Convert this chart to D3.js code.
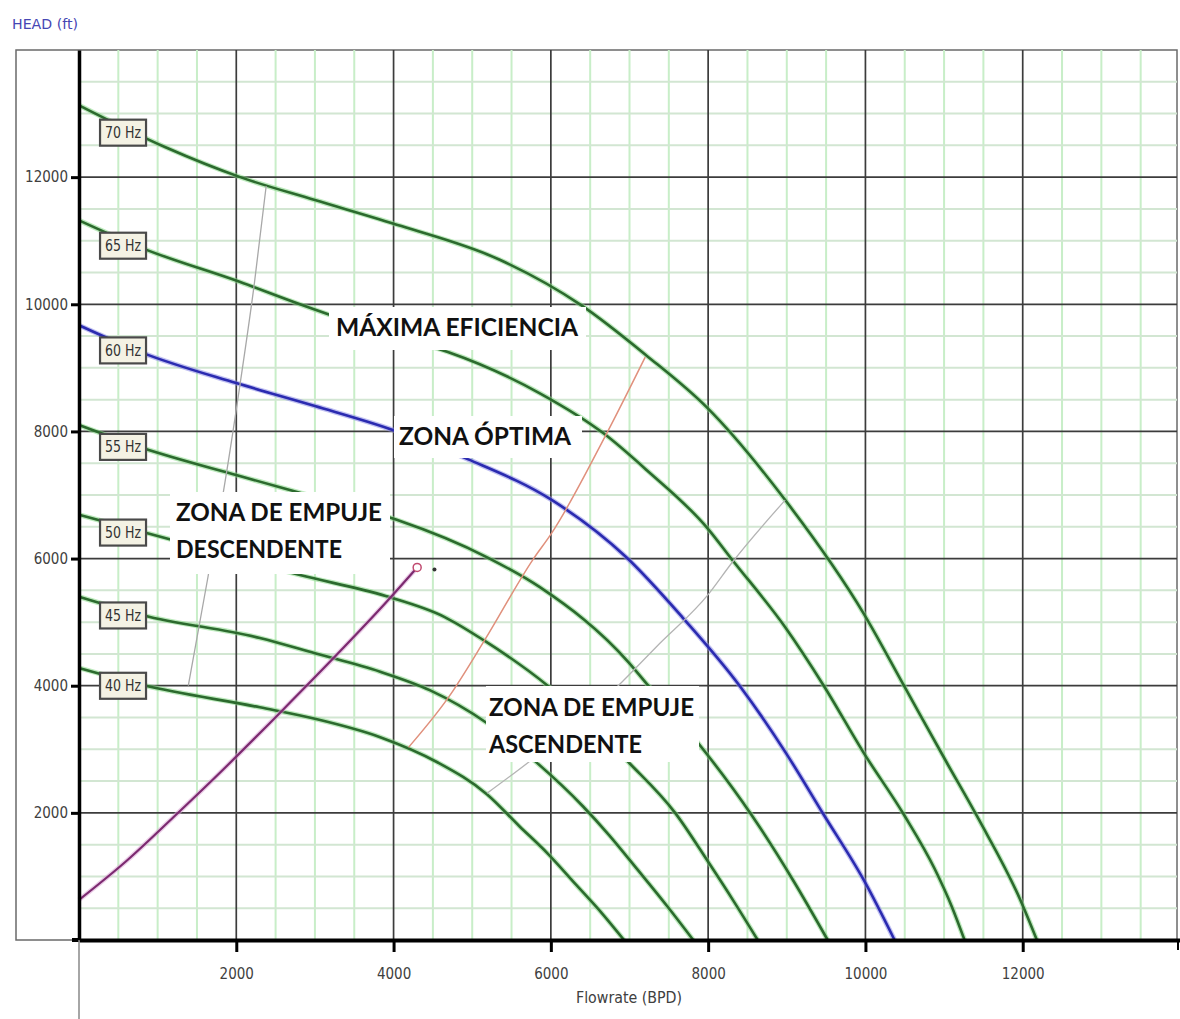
<!DOCTYPE html>
<html><head><meta charset="utf-8">
<script src="https://cdnjs.cloudflare.com/ajax/libs/d3/7.8.5/d3.min.js"></script>
<style>body{margin:0;background:#fff}svg{display:block}</style>
</head><body><svg id="c" width="1180" height="1019"></svg>
<script>
// ---- data (Flowrate BPD, Head ft) ----
const xTicks = [2000, 4000, 6000, 8000, 10000, 12000];
const yTicks = [2000, 4000, 6000, 8000, 10000, 12000];
const freqNames = ["70 Hz", "65 Hz", "60 Hz", "55 Hz", "50 Hz", "45 Hz", "40 Hz"];
const curve70 = [[0,13130],[1100,12470],[2050,12000],[3000,11640],[4100,11230],[5350,10700],[6380,9990],[7210,9200],[7990,8370],[8980,6920],[9980,5130],[10490,4000],[11030,2800],[11440,1900],[11970,630],[12180,0]];
const curve65 = [[0,11320],[810,10880],[2050,10350],[2810,10000],[4000,9500],[4690,9250],[5860,8600],[6670,7970],[7220,7390],[7990,6480],[8300,5990],[8980,4920],[9470,4000],[9980,2940],[10490,1970],[10880,1120],[11100,520],[11260,0]];
const curve60 = [[0,9670],[800,9240],[2000,8760],[3000,8400],[4000,8020],[4950,7560],[6000,6930],[6960,6020],[7670,5080],[8400,4000],[8990,2940],[9470,1970],[9980,940],[10370,0]];
const curve55 = [[0,8100],[810,7740],[2010,7310],[3000,6970],[4040,6610],[5190,6020],[5860,5550],[6980,4380],[7240,4000],[7910,3040],[8550,1970],[9080,940],[9520,0]];
const curve50 = [[0,6690],[1200,6290],[2810,5740],[3900,5410],[4650,5080],[5140,4720],[5960,4000],[7000,2780],[7580,2000],[8000,1230],[8330,600],[8630,0]];
const curve45 = [[0,5400],[810,5110],[2300,4750],[3000,4510],[3830,4220],[4460,3930],[5190,3410],[5820,2790],[6410,2100],[6740,1650],[7100,1110],[7480,530],[7810,0]];
const curve40 = [[0,4280],[810,4010],[2300,3660],[3000,3480],[3830,3190],[4550,2800],[5190,2290],[5600,1790],[5960,1360],[6320,870],[6650,420],[6930,0]];
const minLine = [[1390,4000],[1640,5710],[1840,7080],[2050,8760],[2230,10330],[2380,11860]];
const maxLine = [[5190,2310],[5720,2800],[6840,3980],[7340,4610],[8010,5450],[8300,5930],[8980,6920]];
const bepLine = [[4190,3030],[4700,3820],[5160,4720],[5770,5980],[6010,6400],[6710,7970],[7200,9170]];
const systemCurve = [[0,630],[610,1250],[1200,1930],[1700,2520],[2560,3580],[3450,4710],[3830,5210],[4300,5860]];
const operatingPoint = [4300, 5860];
const markerPoint = [4520, 5830];
const annotations = [
  {lines: ["MÁXIMA EFICIENCIA"]},
  {lines: ["ZONA ÓPTIMA"]},
  {lines: ["ZONA DE EMPUJE", "DESCENDENTE"]},
  {lines: ["ZONA DE EMPUJE", "ASCENDENTE"]}
];

// ---- layout ----
const svg = d3.select("#c");
const x = d3.scaleLinear().domain([0, 14000]).range([79, 1180]);
const y = d3.scaleLinear().domain([0, 14000]).range([940, 50]);
const X0 = 79, X1 = 1177, Y0 = 940, Y1 = 50;

svg.append("rect").attr("width",1180).attr("height",1019).attr("fill","#fff");

// outer frame
svg.append("rect").attr("x",16).attr("y",Y1).attr("width",X1-16).attr("height",Y0-Y1)
  .attr("fill","none").attr("stroke","#6a6a6a").attr("stroke-width",1.5);

// minor grid
const minor = d3.range(500, 14000, 500).filter(v => v % 2000 !== 0);
const grid = svg.append("g");
grid.selectAll(".vm").data(minor).join("line")
  .attr("x1", d=>x(d)).attr("x2", d=>x(d)).attr("y1", Y1).attr("y2", Y0)
  .attr("stroke", "#c8eec8").attr("stroke-width", 2);
grid.selectAll(".hm").data(minor).join("line")
  .attr("y1", d=>y(d)).attr("y2", d=>y(d)).attr("x1", X0).attr("x2", X1)
  .attr("stroke", "#d2e6d2").attr("stroke-width", 2);
// major grid
grid.selectAll(".vM").data(xTicks).join("line")
  .attr("x1", d=>x(d)).attr("x2", d=>x(d)).attr("y1", Y1).attr("y2", Y0)
  .attr("stroke", "#3c3c3c").attr("stroke-width", 1.7);
grid.selectAll(".hM").data(yTicks).join("line")
  .attr("y1", d=>y(d)).attr("y2", d=>y(d)).attr("x1", X0).attr("x2", X1)
  .attr("stroke", "#3c3c3c").attr("stroke-width", 1.7);

// curves
const line = d3.line().x(d=>x(d[0])).y(d=>y(d[1])).curve(d3.curveMonotoneX);
function drawCurve(data, core, halo, w) {
  svg.append("path").attr("d", line(data)).attr("fill","none")
    .attr("stroke", halo).attr("stroke-width", w + 2.5).attr("stroke-opacity", 0.55)
    .attr("stroke-linejoin","round");
  svg.append("path").attr("d", line(data)).attr("fill","none")
    .attr("stroke", core).attr("stroke-width", w).attr("stroke-linejoin","round");
}
const pumpCurves = [curve70, curve65, curve60, curve55, curve50, curve45, curve40];
pumpCurves.forEach((c, i) => {
  if (i === 2) drawCurve(c, "#2b2bb0", "#8d8de6", 2.6);
  else drawCurve(c, "#2c6a2e", "#86d886", 2.6);
});
// range lines
svg.append("path").attr("d", line(minLine)).attr("fill","none").attr("stroke","#a8a8a8").attr("stroke-width",1.3);
svg.append("path").attr("d", line(maxLine)).attr("fill","none").attr("stroke","#b4b4b4").attr("stroke-width",1.3);
svg.append("path").attr("d", line(bepLine)).attr("fill","none").attr("stroke","#e0907c").attr("stroke-width",1.5);
// system curve
drawCurve(systemCurve, "#7c2a70", "#dba6d6", 2.2);
svg.append("circle").attr("cx", x(operatingPoint[0])).attr("cy", y(operatingPoint[1])).attr("r", 4)
  .attr("fill","#fff").attr("stroke","#c04a70").attr("stroke-width",1.5);
svg.append("circle").attr("cx", x(markerPoint[0])).attr("cy", y(markerPoint[1])).attr("r", 2)
  .attr("fill","#333");

// frequency labels
function interp(data, q) {
  for (let i = 1; i < data.length; i++) {
    if (data[i][0] >= q) {
      const a = data[i-1], b = data[i];
      return a[1] + (b[1]-a[1]) * (q - a[0]) / (b[0]-a[0]);
    }
  }
  return data[data.length-1][1];
}
const labelQ = 560;
pumpCurves.forEach((c, i) => {
  const cx = x(labelQ), cy = y(interp(c, labelQ)) + 6;
  const g = svg.append("g").attr("transform", `translate(${cx},${cy})`);
  g.append("rect").attr("x",-23).attr("y",-13).attr("width",46).attr("height",26)
    .attr("fill","#f4f2e4").attr("stroke","#4a4a4a").attr("stroke-width",2.2);
  g.append("text").attr("x",0).attr("y",5.5).attr("text-anchor","middle")
    .attr("font-family","'DejaVu Sans Condensed','DejaVu Sans',sans-serif").attr("font-size",15)
    .attr("fill","#333").attr("textLength",36).attr("lengthAdjust","spacingAndGlyphs")
    .text(freqNames[i]);
});

// axes
const fmt = d3.format("d");
const yAxis = d3.axisLeft(y).tickValues(yTicks).tickFormat(fmt).tickSize(8).tickSizeOuter(0).tickPadding(3);
const gy = svg.append("g").attr("transform", `translate(${X0},0)`).call(yAxis);
gy.select(".domain").attr("stroke","#000").attr("stroke-width",3.5);
gy.selectAll(".tick line").attr("stroke","#000").attr("stroke-width",3);
gy.selectAll(".tick text").attr("font-family","'DejaVu Sans Condensed','DejaVu Sans',sans-serif").attr("font-size",15).attr("fill","#404040");

const xAxis = d3.axisBottom(x).tickValues(xTicks).tickFormat(fmt).tickSize(12).tickSizeOuter(0).tickPadding(16);
const gx = svg.append("g").attr("transform", `translate(0,${Y0})`).call(xAxis);
gx.select(".domain").attr("stroke","#000").attr("stroke-width",4);
gx.selectAll(".tick line").attr("stroke","#000").attr("stroke-width",3);
gx.selectAll(".tick text").attr("font-family","'DejaVu Sans Condensed','DejaVu Sans',sans-serif").attr("font-size",15).attr("fill","#404040");
svg.append("line").attr("x1",72).attr("x2",X0).attr("y1",Y0).attr("y2",Y0).attr("stroke","#000").attr("stroke-width",4);
svg.append("line").attr("x1",X0).attr("x2",X0).attr("y1",Y0).attr("y2",1019).attr("stroke","#888").attr("stroke-width",1.5);
svg.append("line").attr("x1",x(14000)-2).attr("x2",x(14000)-2).attr("y1",Y0).attr("y2",Y0+10).attr("stroke","#000").attr("stroke-width",2);

svg.append("text").attr("x",12).attr("y",29).attr("font-family","'DejaVu Sans Condensed','DejaVu Sans',sans-serif").attr("font-size",14)
  .attr("fill","#4646b4").attr("textLength",66).attr("lengthAdjust","spacingAndGlyphs").text("HEAD (ft)");
svg.append("text").attr("x",629).attr("y",1003).attr("text-anchor","middle").attr("font-family","'DejaVu Sans Condensed','DejaVu Sans',sans-serif")
  .attr("font-size",15).attr("fill","#404040").attr("textLength",106).attr("lengthAdjust","spacingAndGlyphs").text("Flowrate (BPD)");

// annotation boxes (white backgrounds over the chart)
const annLayout = [
  {box:[329,307,257,43], x:336, base:[336], w:[242]},
  {box:[394,416,188,42], x:399, base:[445], w:[172]},
  {box:[170,492,220,82], x:176, base:[521,558], w:[206,166]},
  {box:[486,686,213,76], x:489, base:[716,753], w:[205,153]}
];
annotations.forEach((a, i) => {
  const L = annLayout[i];
  svg.append("rect").attr("x",L.box[0]).attr("y",L.box[1]).attr("width",L.box[2]).attr("height",L.box[3]).attr("fill","#fff");
  a.lines.forEach((t, j) => {
    svg.append("text").attr("x",L.x).attr("y",L.base[j])
      .attr("font-family","Lato,'Open Sans',sans-serif").attr("font-weight",700).attr("font-size",24.5)
      .attr("fill","#111").attr("textLength",L.w[j]).attr("lengthAdjust","spacingAndGlyphs").text(t);
  });
});
</script></body></html>
